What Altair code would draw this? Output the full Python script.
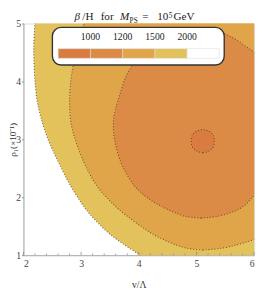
import altair as alt
import pandas as pd

# ---------------- data ----------------
levels = [1000, 1200, 1500, 2000]
band_colors = ["#D87C42", "#DB8B46", "#E0A548", "#E3C25B", "#FFFFFF"]

x_major = [2, 3, 4, 5, 6]
x_minor = [2.2, 2.4, 2.6, 2.8, 3.2, 3.4, 3.6, 3.8, 4.2, 4.4, 4.6, 4.8,
           5.2, 5.4, 5.6, 5.8]
y_major = [1, 2, 3, 4, 5]

# contour beta/H = 2000 (yellow | white); right side lies beyond the frame
c2000_y = [0.90, 1.02, 1.20, 1.37, 1.55, 1.71, 1.85, 2.00, 2.16, 2.32, 2.62,
           2.85, 3.07, 3.35, 3.65, 4.00, 4.39, 4.70, 5.00, 5.20]
c2000_xl = [4.15, 3.99, 3.72, 3.49, 3.30, 3.15, 3.04, 2.94, 2.84, 2.75, 2.60,
            2.49, 2.40, 2.31, 2.24, 2.20, 2.18, 2.18, 2.20, 2.22]
c2000_xr = [6.6, 6.6, 6.6, 6.6, 6.6, 6.6, 6.6, 6.6, 6.6, 6.6, 6.6,
            6.6, 6.6, 6.6, 6.6, 6.6, 6.6, 6.6, 6.6, 6.6]

# contour 1500 (light orange | yellow)
c1500_y = [1.09, 1.12, 1.19, 1.26, 1.33, 1.41, 1.49, 1.65, 1.82, 2.00, 2.20,
           2.40, 2.60, 2.90, 3.16, 3.40, 3.65, 3.90, 4.27, 4.60, 5.00, 5.20]
c1500_xl = [5.11, 4.84, 4.61, 4.45, 4.30, 4.17, 4.05, 3.83, 3.62, 3.44, 3.27,
            3.15, 3.05, 2.93, 2.85, 2.81, 2.80, 2.81, 2.86, 2.93, 3.05, 3.12]
c1500_xr = [5.11, 5.44, 5.74, 5.97, 6.16, 6.30, 6.45, 6.6, 6.6, 6.6, 6.6,
            6.6, 6.6, 6.6, 6.6, 6.6, 6.6, 6.6, 6.6, 6.6, 6.6, 6.6]

# contour 1200 (orange | light orange)
c1200_y = [1.64, 1.67, 1.74, 1.82, 1.90, 1.99, 2.10, 2.20, 2.40, 2.60, 2.90,
           3.16, 3.40, 3.57, 3.80, 4.07, 4.30, 4.45, 4.52, 4.60, 4.70, 4.80,
           4.87, 4.92]
c1200_xl = [5.08, 4.81, 4.61, 4.44, 4.29, 4.15, 4.02, 3.92, 3.79, 3.69, 3.60,
            3.56, 3.57, 3.61, 3.68, 3.77, 3.90, 4.00, 4.06, 4.14, 4.26, 4.44,
            4.64, 4.98]
c1200_xr = [5.08, 5.36, 5.61, 5.78, 5.88, 5.96, 6.04, 6.10, 6.20, 6.25, 6.30,
            6.30, 6.30, 6.30, 6.30, 6.28, 6.20, 6.07, 5.98, 5.86, 5.72, 5.54,
            5.33, 4.98]

# contour 1000 (small dark island)
c1000_y = [2.77, 2.79, 2.83, 2.89, 2.97, 3.05, 3.11, 3.15, 3.17]
c1000_xl = [5.11, 5.02, 4.96, 4.92, 4.91, 4.92, 4.96, 5.02, 5.11]
c1000_xr = [5.11, 5.20, 5.26, 5.30, 5.31, 5.30, 5.26, 5.20, 5.11]

# ---------------- chart ----------------
SERIF = "Liberation Serif"
W, H = 239, 240

xscale = alt.Scale(domain=[2, 6], nice=False, zero=False)
yscale = alt.Scale(domain=[1, 5], nice=False, zero=False)
xaxis = alt.Axis(values=x_major, title="v/Λ", ticks=False, tickSize=0,
                 grid=False, labelFont=SERIF, labelFontSize=10,
                 labelColor="#444", labelPadding=4, domainColor="#aaa",
                 domainWidth=1, titleFont=SERIF, titleFontSize=10,
                 titleFontWeight="normal", titleColor="#333", titlePadding=12)
yaxis = alt.Axis(values=y_major, title="ρ₁(×10⁻¹)", ticks=True, tickSize=2,
                 tickColor="#888", grid=False, labelFont=SERIF,
                 labelFontSize=10, labelColor="#444", labelPadding=1,
                 domainColor="#aaa", domainWidth=1, titleFont=SERIF,
                 titleFontSize=9.5, titleFontWeight="normal", titleColor="#333",
                 titleX=-11.5, titleY=H / 2, titleAngle=270,
                 titleBaseline="middle", titleAlign="center")

contours = [
    ("2000", c2000_y, c2000_xl, c2000_xr, band_colors[3]),
    ("1500", c1500_y, c1500_xl, c1500_xr, band_colors[2]),
    ("1200", c1200_y, c1200_xl, c1200_xr, band_colors[1]),
    ("1000", c1000_y, c1000_xl, c1000_xr, band_colors[0]),
]

layers = []
line_rows = []
for name, ys, xls, xrs, col in contours:
    df = pd.DataFrame({"y": ys, "xl": xls, "xr": xrs})
    layers.append(
        alt.Chart(df).mark_area(orient="horizontal", interpolate="catmull-rom",
                                clip=True, color=col, opacity=1)
        .encode(y=alt.Y("y:Q", scale=yscale, axis=yaxis),
                x=alt.X("xl:Q", scale=xscale, axis=xaxis, stack=False),
                x2="xr:Q")
    )
    for y, xl, xr in zip(ys, xls, xrs):
        line_rows.append({"c": name, "side": "l", "y": y, "x": xl})
        line_rows.append({"c": name, "side": "r", "y": y, "x": xr})

lines = alt.Chart(pd.DataFrame(line_rows)).mark_line(
    interpolate="catmull-rom", clip=True, strokeDash=[1, 2], strokeWidth=1.1,
    color="#4a3525", opacity=0.75
).encode(
    x=alt.X("x:Q", scale=xscale, axis=xaxis),
    y=alt.Y("y:Q", scale=yscale, axis=yaxis),
    detail=["c:N", "side:N"],
    order="y:Q",
)
layers.append(lines)

# inward ticks on the bottom frame
tick_major = alt.Chart(pd.DataFrame({"t": x_major})).mark_rule(
    color="#888", strokeWidth=0.8).encode(
    x=alt.X("t:Q", scale=xscale, axis=xaxis),
    y=alt.value(H), y2=alt.value(H - 3.5))
tick_minor = alt.Chart(pd.DataFrame({"t": x_minor})).mark_rule(
    color="#888", strokeWidth=0.8).encode(
    x=alt.X("t:Q", scale=xscale, axis=xaxis),
    y=alt.value(H), y2=alt.value(H - 1.8))
layers += [tick_major, tick_minor]

dummy = pd.DataFrame({"a": [0]})

# legend box
LX0, LX1, LY0, LY1 = 30, 208, 4, 43
layers.append(alt.Chart(dummy).mark_rect(
    fill="white", stroke="#333", strokeWidth=1.4, cornerRadius=9).encode(
    x=alt.value(LX0), x2=alt.value(LX1), y=alt.value(LY0), y2=alt.value(LY1)))
SW0, SWW, SY0, SY1 = 36, 33.4, 26, 36
for i, col in enumerate(band_colors):
    layers.append(alt.Chart(dummy).mark_rect(
        fill=col, stroke="#dcdcdc", strokeWidth=0.6).encode(
        x=alt.value(SW0 + SWW * i), x2=alt.value(SW0 + SWW * (i + 1)),
        y=alt.value(SY0), y2=alt.value(SY1)))
for i, lv in enumerate(levels):
    layers.append(alt.Chart(dummy).mark_text(
        text=str(lv), font=SERIF, fontSize=10, color="#222", align="center",
        baseline="middle").encode(
        x=alt.value(SW0 + SWW * (i + 1)), y=alt.value(14)))

# title (composed of pieces for italics / sub- and superscripts)
TB = -3.2
title_pieces = [
    ("β", 53, TB, 11.5, "italic"),
    ("/H", 61, TB, 11.5, "normal"),
    ("for", 80, TB, 11.5, "normal"),
    ("M", 100, TB, 11.5, "italic"),
    ("PS", 110, TB + 2.6, 7.5, "normal"),
    ("=", 123, TB, 11.5, "normal"),
    ("10", 138.5, TB, 11.5, "normal"),
    ("5", 150.5, TB - 2.6, 7.5, "normal"),
    ("GeV", 155.5, TB, 11.5, "normal"),
]
for txt, px, py, fs, st in title_pieces:
    layers.append(alt.Chart(dummy).mark_text(
        text=txt, font=SERIF, fontSize=fs, fontStyle=st, color="#222",
        align="left", baseline="alphabetic").encode(
        x=alt.value(px), y=alt.value(py)))

chart = alt.layer(*layers).properties(
    width=W, height=H,
    padding={"left": 16, "top": 11, "right": 4, "bottom": 32},
    autosize=alt.AutoSizeParams(type="none"),
).configure_view(strokeWidth=0).configure(background="white")

chart.save("out.html", embed_options={"renderer": "svg", "actions": False})
